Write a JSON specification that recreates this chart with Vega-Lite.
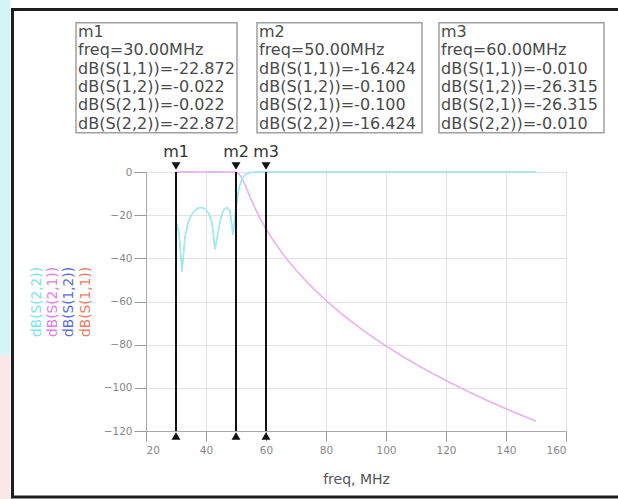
{
  "$schema": "https://vega.github.io/schema/vega-lite/v6.json",
  "width": 420,
  "height": 259,
  "autosize": {"type": "none"},
  "padding": {"left": 146, "top": 172, "right": 52, "bottom": 68},
  "background": "white",
  "config": {
    "view": {"stroke": "#b0b0b0", "strokeWidth": 1},
    "font": "DejaVu Sans",
    "axis": {"grid": true, "gridColor": "#e2e2e2", "domainColor": "#aaaaaa", "tickColor": "#999999", "labelFontSize": 10.5, "labelColor": "#888888", "labelFont": "DejaVu Sans", "titleFont": "DejaVu Sans", "titleFontSize": 14, "titleColor": "#555555", "titleFontWeight": "normal"},
    "axisX": {"tickSize": 10, "labelPadding": 4, "titlePadding": 17},
    "axisY": {"tickSize": 12, "labelPadding": 2}
  },
  "datasets": {
    "sparams": [
      {"freq": 30, "s11": -22.87, "s12": -0.022, "s21": -0.022, "s22": -22.87},
      {"freq": 31, "s11": -27.99, "s12": -0.007, "s21": -0.007, "s22": -27.99},
      {"freq": 32, "s11": -46.04, "s12": -0.0001, "s21": -0.0001, "s22": -46.04},
      {"freq": 33, "s11": -30.19, "s12": -0.004, "s21": -0.004, "s22": -30.19},
      {"freq": 34, "s11": -23.64, "s12": -0.019, "s21": -0.019, "s22": -23.64},
      {"freq": 35, "s11": -20.24, "s12": -0.041, "s21": -0.041, "s22": -20.24},
      {"freq": 36, "s11": -18.18, "s12": -0.067, "s21": -0.067, "s22": -18.18},
      {"freq": 37, "s11": -16.98, "s12": -0.088, "s21": -0.088, "s22": -16.98},
      {"freq": 38, "s11": -16.46, "s12": -0.099, "s21": -0.099, "s22": -16.46},
      {"freq": 39, "s11": -16.59, "s12": -0.096, "s21": -0.096, "s22": -16.59},
      {"freq": 40, "s11": -17.5, "s12": -0.078, "s21": -0.078, "s22": -17.5},
      {"freq": 41, "s11": -19.5, "s12": -0.049, "s21": -0.049, "s22": -19.5},
      {"freq": 42, "s11": -23.59, "s12": -0.019, "s21": -0.019, "s22": -23.59},
      {"freq": 43, "s11": -35.73, "s12": -0.001, "s21": -0.001, "s22": -35.73},
      {"freq": 44, "s11": -28.2, "s12": -0.007, "s21": -0.007, "s22": -28.2},
      {"freq": 45, "s11": -20.69, "s12": -0.037, "s21": -0.037, "s22": -20.69},
      {"freq": 46, "s11": -17.46, "s12": -0.079, "s21": -0.079, "s22": -17.46},
      {"freq": 47, "s11": -16.43, "s12": -0.1, "s21": -0.1, "s22": -16.43},
      {"freq": 48, "s11": -17.99, "s12": -0.07, "s21": -0.07, "s22": -17.99},
      {"freq": 49, "s11": -29.09, "s12": -0.005, "s21": -0.005, "s22": -29.09},
      {"freq": 50, "s11": -16.424, "s12": -0.1, "s21": -0.1, "s22": -16.424},
      {"freq": 51, "s11": -7.38, "s12": -0.877, "s21": -0.877, "s22": -7.38},
      {"freq": 52, "s11": -3.14, "s12": -2.884, "s21": -2.884, "s22": -3.14},
      {"freq": 53, "s11": -1.289, "s12": -5.904, "s21": -5.904, "s22": -1.289},
      {"freq": 54, "s11": -0.547, "s12": -9.268, "s21": -9.268, "s22": -0.547},
      {"freq": 55, "s11": -0.247, "s12": -12.577, "s21": -12.577, "s22": -0.247},
      {"freq": 56, "s11": -0.119, "s12": -15.695, "s21": -15.695, "s22": -0.119},
      {"freq": 57, "s11": -0.06, "s12": -18.609, "s21": -18.609, "s22": -0.06},
      {"freq": 58, "s11": -0.032, "s12": -21.336, "s21": -21.336, "s22": -0.032},
      {"freq": 59, "s11": -0.018, "s12": -23.897, "s21": -23.897, "s22": -0.018},
      {"freq": 60, "s11": -0.01, "s12": -26.315, "s21": -26.315, "s22": -0.01},
      {"freq": 62, "s11": -0.004, "s12": -30.79, "s21": -30.79, "s22": -0.004},
      {"freq": 64, "s11": -0.001, "s12": -34.87, "s21": -34.87, "s22": -0.001},
      {"freq": 66, "s11": -0.001, "s12": -38.63, "s21": -38.63, "s22": -0.001},
      {"freq": 68, "s11": 0, "s12": -42.14, "s21": -42.14, "s22": 0},
      {"freq": 70, "s11": 0, "s12": -45.43, "s21": -45.43, "s22": 0},
      {"freq": 72, "s11": 0, "s12": -48.53, "s21": -48.53, "s22": 0},
      {"freq": 74, "s11": 0, "s12": -51.47, "s21": -51.47, "s22": 0},
      {"freq": 76, "s11": 0, "s12": -54.27, "s21": -54.27, "s22": 0},
      {"freq": 78, "s11": 0, "s12": -56.94, "s21": -56.94, "s22": 0},
      {"freq": 80, "s11": 0, "s12": -59.5, "s21": -59.5, "s22": 0},
      {"freq": 85, "s11": 0, "s12": -65.46, "s21": -65.46, "s22": 0},
      {"freq": 90, "s11": 0, "s12": -70.91, "s21": -70.91, "s22": 0},
      {"freq": 95, "s11": 0, "s12": -75.93, "s21": -75.93, "s22": 0},
      {"freq": 100, "s11": 0, "s12": -80.6, "s21": -80.6, "s22": 0},
      {"freq": 105, "s11": 0, "s12": -84.97, "s21": -84.97, "s22": 0},
      {"freq": 110, "s11": 0, "s12": -89.08, "s21": -89.08, "s22": 0},
      {"freq": 115, "s11": 0, "s12": -92.96, "s21": -92.96, "s22": 0},
      {"freq": 120, "s11": 0, "s12": -96.64, "s21": -96.64, "s22": 0},
      {"freq": 125, "s11": 0, "s12": -100.13, "s21": -100.13, "s22": 0},
      {"freq": 130, "s11": 0, "s12": -103.47, "s21": -103.47, "s22": 0},
      {"freq": 135, "s11": 0, "s12": -106.64, "s21": -106.64, "s22": 0},
      {"freq": 140, "s11": 0, "s12": -109.69, "s21": -109.69, "s22": 0},
      {"freq": 145, "s11": 0, "s12": -112.62, "s21": -112.62, "s22": 0},
      {"freq": 150, "s11": 0, "s12": -115.45, "s21": -115.45, "s22": 0}
    ],
    "markers": [
      {"marker": "m1", "freq": 30, "readout": ["m1", "freq=30.00MHz", "dB(S(1,1))=-22.872", "dB(S(1,2))=-0.022", "dB(S(2,1))=-0.022", "dB(S(2,2))=-22.872"]},
      {"marker": "m2", "freq": 50, "readout": ["m2", "freq=50.00MHz", "dB(S(1,1))=-16.424", "dB(S(1,2))=-0.100", "dB(S(2,1))=-0.100", "dB(S(2,2))=-16.424"]},
      {"marker": "m3", "freq": 60, "readout": ["m3", "freq=60.00MHz", "dB(S(1,1))=-0.010", "dB(S(1,2))=-26.315", "dB(S(2,1))=-26.315", "dB(S(2,2))=-0.010"]}
    ],
    "legend": [
      {"label": "dB(S(2,2))"},
      {"label": "dB(S(2,1))"},
      {"label": "dB(S(1,2))"},
      {"label": "dB(S(1,1))"}
    ]
  },
  "layer": [
    {
      "data": {"values": [{}]},
      "mark": {"type": "rect", "fill": "#d3f5f7", "strokeWidth": 0},
      "encoding": {
        "x": {"datum": -28.7, "type": "quantitative", "scale": {"domain": [20, 160], "nice": false, "zero": false}, "axis": {"values": [20, 40, 60, 80, 100, 120, 140, 160], "title": "freq, MHz"}},
        "x2": {"datum": -25.2},
        "y": {"datum": 80, "type": "quantitative", "scale": {"domain": [-120, 0], "nice": false, "zero": false}, "axis": {"values": [0, -20, -40, -60, -80, -100, -120], "title": null}},
        "y2": {"datum": -84.8}
      }
    },
    {
      "data": {"values": [{}]},
      "mark": {"type": "rect", "fill": "#fbe7e7", "strokeWidth": 0},
      "encoding": {
        "x": {"datum": -28.7, "type": "quantitative", "scale": {"domain": [20, 160], "nice": false, "zero": false}, "axis": {"values": [20, 40, 60, 80, 100, 120, 140, 160], "title": "freq, MHz"}},
        "x2": {"datum": -25.2},
        "y": {"datum": -84.8, "type": "quantitative", "scale": {"domain": [-120, 0], "nice": false, "zero": false}, "axis": {"values": [0, -20, -40, -60, -80, -100, -120], "title": null}},
        "y2": {"datum": -152}
      }
    },
    {
      "data": {"values": [{}]},
      "mark": {"type": "rect", "fill": "transparent", "stroke": "#1e1e1e", "strokeWidth": 3},
      "encoding": {
        "x": {"datum": -24.5, "type": "quantitative", "scale": {"domain": [20, 160], "nice": false, "zero": false}, "axis": {"values": [20, 40, 60, 80, 100, 120, 140, 160], "title": "freq, MHz"}},
        "x2": {"datum": 200},
        "y": {"datum": 75.3, "type": "quantitative", "scale": {"domain": [-120, 0], "nice": false, "zero": false}, "axis": {"values": [0, -20, -40, -60, -80, -100, -120], "title": null}},
        "y2": {"datum": -150.6}
      }
    },
    {
      "data": {"name": "sparams"},
      "mark": {"type": "line", "color": "#f08070", "strokeWidth": 0.8},
      "encoding": {
        "x": {"field": "freq", "type": "quantitative", "scale": {"domain": [20, 160], "nice": false, "zero": false}, "axis": {"values": [20, 40, 60, 80, 100, 120, 140, 160], "title": "freq, MHz"}},
        "y": {"field": "s11", "type": "quantitative", "scale": {"domain": [-120, 0], "nice": false, "zero": false}, "axis": {"values": [0, -20, -40, -60, -80, -100, -120], "title": null}}
      }
    },
    {
      "data": {"name": "sparams"},
      "mark": {"type": "line", "color": "#6070e0", "strokeWidth": 0.8},
      "encoding": {
        "x": {"field": "freq", "type": "quantitative", "scale": {"domain": [20, 160], "nice": false, "zero": false}, "axis": {"values": [20, 40, 60, 80, 100, 120, 140, 160], "title": "freq, MHz"}},
        "y": {"field": "s12", "type": "quantitative", "scale": {"domain": [-120, 0], "nice": false, "zero": false}, "axis": {"values": [0, -20, -40, -60, -80, -100, -120], "title": null}}
      }
    },
    {
      "data": {"name": "sparams"},
      "mark": {"type": "line", "color": "#f0b4f0", "strokeWidth": 1.6},
      "encoding": {
        "x": {"field": "freq", "type": "quantitative", "scale": {"domain": [20, 160], "nice": false, "zero": false}, "axis": {"values": [20, 40, 60, 80, 100, 120, 140, 160], "title": "freq, MHz"}},
        "y": {"field": "s21", "type": "quantitative", "scale": {"domain": [-120, 0], "nice": false, "zero": false}, "axis": {"values": [0, -20, -40, -60, -80, -100, -120], "title": null}}
      }
    },
    {
      "data": {"name": "sparams"},
      "mark": {"type": "line", "color": "#98eef2", "strokeWidth": 1.6},
      "encoding": {
        "x": {"field": "freq", "type": "quantitative", "scale": {"domain": [20, 160], "nice": false, "zero": false}, "axis": {"values": [20, 40, 60, 80, 100, 120, 140, 160], "title": "freq, MHz"}},
        "y": {"field": "s22", "type": "quantitative", "scale": {"domain": [-120, 0], "nice": false, "zero": false}, "axis": {"values": [0, -20, -40, -60, -80, -100, -120], "title": null}}
      }
    },
    {
      "data": {"name": "markers"},
      "mark": {"type": "rule", "color": "#111111", "strokeWidth": 2},
      "encoding": {
        "x": {"field": "freq", "type": "quantitative", "scale": {"domain": [20, 160], "nice": false, "zero": false}, "axis": {"values": [20, 40, 60, 80, 100, 120, 140, 160], "title": "freq, MHz"}},
        "y": {"datum": 0, "type": "quantitative", "scale": {"domain": [-120, 0], "nice": false, "zero": false}, "axis": {"values": [0, -20, -40, -60, -80, -100, -120], "title": null}},
        "y2": {"datum": -120}
      }
    },
    {
      "data": {"name": "markers"},
      "mark": {"type": "point", "shape": "triangle-down", "filled": true, "color": "#111111", "size": 80, "opacity": 1, "yOffset": -6},
      "encoding": {
        "x": {"field": "freq", "type": "quantitative", "scale": {"domain": [20, 160], "nice": false, "zero": false}, "axis": {"values": [20, 40, 60, 80, 100, 120, 140, 160], "title": "freq, MHz"}},
        "y": {"datum": 0, "type": "quantitative", "scale": {"domain": [-120, 0], "nice": false, "zero": false}, "axis": {"values": [0, -20, -40, -60, -80, -100, -120], "title": null}}
      }
    },
    {
      "data": {"name": "markers"},
      "mark": {"type": "point", "shape": "triangle-up", "filled": true, "color": "#111111", "size": 80, "opacity": 1, "yOffset": 5},
      "encoding": {
        "x": {"field": "freq", "type": "quantitative", "scale": {"domain": [20, 160], "nice": false, "zero": false}, "axis": {"values": [20, 40, 60, 80, 100, 120, 140, 160], "title": "freq, MHz"}},
        "y": {"datum": -120, "type": "quantitative", "scale": {"domain": [-120, 0], "nice": false, "zero": false}, "axis": {"values": [0, -20, -40, -60, -80, -100, -120], "title": null}}
      }
    },
    {
      "data": {"name": "markers"},
      "mark": {"type": "text", "fontSize": 16, "color": "#333333", "align": "center", "baseline": "middle", "font": "DejaVu Sans"},
      "encoding": {
        "x": {"field": "freq", "type": "quantitative", "scale": {"domain": [20, 160], "nice": false, "zero": false}, "axis": {"values": [20, 40, 60, 80, 100, 120, 140, 160], "title": "freq, MHz"}},
        "y": {"datum": 9.3, "type": "quantitative", "scale": {"domain": [-120, 0], "nice": false, "zero": false}, "axis": {"values": [0, -20, -40, -60, -80, -100, -120], "title": null}},
        "text": {"field": "marker", "type": "nominal"}
      }
    },
    {
      "data": {"name": "markers"},
      "transform": [{"filter": "datum.marker == 'm1'"}],
      "mark": {"type": "rect", "fill": "transparent", "stroke": "#a0a0a0", "strokeWidth": 1.5},
      "encoding": {
        "x": {"datum": -3.333, "type": "quantitative", "scale": {"domain": [20, 160], "nice": false, "zero": false}, "axis": {"values": [20, 40, 60, 80, 100, 120, 140, 160], "title": "freq, MHz"}},
        "x2": {"datum": 50.333},
        "y": {"datum": 69.17, "type": "quantitative", "scale": {"domain": [-120, 0], "nice": false, "zero": false}, "axis": {"values": [0, -20, -40, -60, -80, -100, -120], "title": null}},
        "y2": {"datum": 18.21}
      }
    },
    {
      "data": {"name": "markers"},
      "transform": [{"filter": "datum.marker == 'm2'"}],
      "mark": {"type": "rect", "fill": "transparent", "stroke": "#a0a0a0", "strokeWidth": 1.5},
      "encoding": {
        "x": {"datum": 57, "type": "quantitative", "scale": {"domain": [20, 160], "nice": false, "zero": false}, "axis": {"values": [20, 40, 60, 80, 100, 120, 140, 160], "title": "freq, MHz"}},
        "x2": {"datum": 112},
        "y": {"datum": 69.17, "type": "quantitative", "scale": {"domain": [-120, 0], "nice": false, "zero": false}, "axis": {"values": [0, -20, -40, -60, -80, -100, -120], "title": null}},
        "y2": {"datum": 18.21}
      }
    },
    {
      "data": {"name": "markers"},
      "transform": [{"filter": "datum.marker == 'm3'"}],
      "mark": {"type": "rect", "fill": "transparent", "stroke": "#a0a0a0", "strokeWidth": 1.5},
      "encoding": {
        "x": {"datum": 117.667, "type": "quantitative", "scale": {"domain": [20, 160], "nice": false, "zero": false}, "axis": {"values": [20, 40, 60, 80, 100, 120, 140, 160], "title": "freq, MHz"}},
        "x2": {"datum": 172.667},
        "y": {"datum": 69.17, "type": "quantitative", "scale": {"domain": [-120, 0], "nice": false, "zero": false}, "axis": {"values": [0, -20, -40, -60, -80, -100, -120], "title": null}},
        "y2": {"datum": 18.21}
      }
    },
    {
      "data": {"name": "markers"},
      "transform": [{"filter": "datum.marker == 'm1'"}],
      "mark": {"type": "text", "fontSize": 16, "color": "#4a4a4a", "align": "left", "baseline": "top", "lineHeight": 18.3, "dx": 2, "font": "DejaVu Sans"},
      "encoding": {
        "x": {"datum": -3.333, "type": "quantitative", "scale": {"domain": [20, 160], "nice": false, "zero": false}, "axis": {"values": [20, 40, 60, 80, 100, 120, 140, 160], "title": "freq, MHz"}},
        "y": {"datum": 68.57, "type": "quantitative", "scale": {"domain": [-120, 0], "nice": false, "zero": false}, "axis": {"values": [0, -20, -40, -60, -80, -100, -120], "title": null}},
        "text": {"field": "readout", "type": "nominal"}
      }
    },
    {
      "data": {"name": "markers"},
      "transform": [{"filter": "datum.marker == 'm2'"}],
      "mark": {"type": "text", "fontSize": 16, "color": "#4a4a4a", "align": "left", "baseline": "top", "lineHeight": 18.3, "dx": 2, "font": "DejaVu Sans"},
      "encoding": {
        "x": {"datum": 57, "type": "quantitative", "scale": {"domain": [20, 160], "nice": false, "zero": false}, "axis": {"values": [20, 40, 60, 80, 100, 120, 140, 160], "title": "freq, MHz"}},
        "y": {"datum": 68.57, "type": "quantitative", "scale": {"domain": [-120, 0], "nice": false, "zero": false}, "axis": {"values": [0, -20, -40, -60, -80, -100, -120], "title": null}},
        "text": {"field": "readout", "type": "nominal"}
      }
    },
    {
      "data": {"name": "markers"},
      "transform": [{"filter": "datum.marker == 'm3'"}],
      "mark": {"type": "text", "fontSize": 16, "color": "#4a4a4a", "align": "left", "baseline": "top", "lineHeight": 18.3, "dx": 2, "font": "DejaVu Sans"},
      "encoding": {
        "x": {"datum": 117.667, "type": "quantitative", "scale": {"domain": [20, 160], "nice": false, "zero": false}, "axis": {"values": [20, 40, 60, 80, 100, 120, 140, 160], "title": "freq, MHz"}},
        "y": {"datum": 68.57, "type": "quantitative", "scale": {"domain": [-120, 0], "nice": false, "zero": false}, "axis": {"values": [0, -20, -40, -60, -80, -100, -120], "title": null}},
        "text": {"field": "readout", "type": "nominal"}
      }
    },
    {
      "data": {"name": "legend"},
      "transform": [{"filter": "datum.label == 'dB(S(2,2))'"}],
      "mark": {"type": "text", "fontSize": 13.7, "color": "#7ee4ec", "angle": 270, "align": "center", "baseline": "middle", "font": "DejaVu Sans"},
      "encoding": {
        "x": {"datum": -16.33, "type": "quantitative", "scale": {"domain": [20, 160], "nice": false, "zero": false}, "axis": {"values": [20, 40, 60, 80, 100, 120, 140, 160], "title": "freq, MHz"}},
        "y": {"datum": -60.2, "type": "quantitative", "scale": {"domain": [-120, 0], "nice": false, "zero": false}, "axis": {"values": [0, -20, -40, -60, -80, -100, -120], "title": null}},
        "text": {"field": "label", "type": "nominal"}
      }
    },
    {
      "data": {"name": "legend"},
      "transform": [{"filter": "datum.label == 'dB(S(2,1))'"}],
      "mark": {"type": "text", "fontSize": 13.7, "color": "#e47ce4", "angle": 270, "align": "center", "baseline": "middle", "font": "DejaVu Sans"},
      "encoding": {
        "x": {"datum": -11, "type": "quantitative", "scale": {"domain": [20, 160], "nice": false, "zero": false}, "axis": {"values": [20, 40, 60, 80, 100, 120, 140, 160], "title": "freq, MHz"}},
        "y": {"datum": -60.2, "type": "quantitative", "scale": {"domain": [-120, 0], "nice": false, "zero": false}, "axis": {"values": [0, -20, -40, -60, -80, -100, -120], "title": null}},
        "text": {"field": "label", "type": "nominal"}
      }
    },
    {
      "data": {"name": "legend"},
      "transform": [{"filter": "datum.label == 'dB(S(1,2))'"}],
      "mark": {"type": "text", "fontSize": 13.7, "color": "#5b6cd8", "angle": 270, "align": "center", "baseline": "middle", "font": "DejaVu Sans"},
      "encoding": {
        "x": {"datum": -5.67, "type": "quantitative", "scale": {"domain": [20, 160], "nice": false, "zero": false}, "axis": {"values": [20, 40, 60, 80, 100, 120, 140, 160], "title": "freq, MHz"}},
        "y": {"datum": -60.2, "type": "quantitative", "scale": {"domain": [-120, 0], "nice": false, "zero": false}, "axis": {"values": [0, -20, -40, -60, -80, -100, -120], "title": null}},
        "text": {"field": "label", "type": "nominal"}
      }
    },
    {
      "data": {"name": "legend"},
      "transform": [{"filter": "datum.label == 'dB(S(1,1))'"}],
      "mark": {"type": "text", "fontSize": 13.7, "color": "#ee7a62", "angle": 270, "align": "center", "baseline": "middle", "font": "DejaVu Sans"},
      "encoding": {
        "x": {"datum": 0, "type": "quantitative", "scale": {"domain": [20, 160], "nice": false, "zero": false}, "axis": {"values": [20, 40, 60, 80, 100, 120, 140, 160], "title": "freq, MHz"}},
        "y": {"datum": -60.2, "type": "quantitative", "scale": {"domain": [-120, 0], "nice": false, "zero": false}, "axis": {"values": [0, -20, -40, -60, -80, -100, -120], "title": null}},
        "text": {"field": "label", "type": "nominal"}
      }
    }
  ]
}
